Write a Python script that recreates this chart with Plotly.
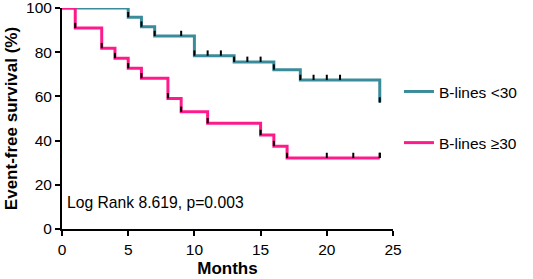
import numpy as np
import plotly.graph_objects as go

# Kaplan-Meier steps
low_time = [0, 5, 6, 7, 10, 13, 16, 18, 24]
low_surv = [100, 95.8, 91.5, 87.3, 78.4, 75.6, 72.1, 67.4, 57.2]
low_censor = [1, 2, 4, 9, 11, 12, 14, 15, 19, 20, 21]

high_time = [0, 1, 3, 4, 5, 6, 8, 9, 11, 15, 16, 17, 24]
high_surv = [100, 90.9, 81.8, 77.3, 72.7, 68.2, 59.1, 53.0, 47.8, 42.5, 37.5, 32.1, 32.1]
high_censor = [20, 22, 24]

TEAL = '#3b8c9b'
PINK = '#ff1a8c'
FONT = 'Arial, Liberation Sans, sans-serif'


def tick_points(times, surv, censor):
    # black marks: at the foot of every drop and on each censored time
    t = np.array(times)
    s = np.array(surv)
    ev_x = list(t[1:])
    ev_y = list(s[1:])
    idx = np.searchsorted(t, censor, side='right') - 1
    return ev_x + list(censor), ev_y + list(s[idx])


fig = go.Figure()

for name, t, s, c, col in [
    ('B-lines <30', low_time, low_surv, low_censor, TEAL),
    ('B-lines \u226530', high_time, high_surv, high_censor, PINK),
]:
    fig.add_trace(go.Scatter(
        x=t, y=s, mode='lines', name=name, legendgroup=name,
        line=dict(color=col, width=3, shape='hv'),
        cliponaxis=False
    ))
    tx, ty = tick_points(t, s, c)
    fig.add_trace(go.Scatter(
        x=tx, y=ty, mode='markers', showlegend=False, legendgroup=name,
        marker=dict(size=1, color='rgba(0,0,0,0)'),
        error_y=dict(type='data', symmetric=False, array=[2.4] * len(tx),
                     arrayminus=[0] * len(tx), width=0, thickness=2, color='black'),
        cliponaxis=False, hoverinfo='skip'
    ))

fig.add_annotation(
    x=0.01, y=0.12, xref='paper', yref='paper', xanchor='left', yanchor='middle',
    text='Log Rank 8.619, p=0.003', showarrow=False,
    font=dict(family=FONT, size=15.7, color='black')
)

fig.update_layout(
    width=533, height=279,
    margin=dict(l=62, r=140, t=8, b=50),
    plot_bgcolor='white', paper_bgcolor='white',
    font=dict(family=FONT, color='black'),
    showlegend=True,
    legend=dict(x=1.018, y=0.505, xanchor='left', yanchor='middle',
                font=dict(size=15.5), itemwidth=30, tracegroupgap=28,
                bgcolor='rgba(0,0,0,0)')
)
fig.update_xaxes(
    range=[0, 25], tickvals=[0, 5, 10, 15, 20, 25], automargin=False,
    showline=True, linecolor='black', linewidth=2, showgrid=False, zeroline=False,
    ticks='outside', ticklen=5, tickwidth=2, tickcolor='black',
    tickfont=dict(size=15.5), tickprefix='<b>', ticksuffix='</b>',
    ticklabeloverflow='allow',
    title=dict(text='<b>Months</b>', font=dict(size=17), standoff=6)
)
fig.update_yaxes(
    range=[0, 100], tickvals=[0, 20, 40, 60, 80, 100], automargin=False,
    showline=True, linecolor='black', linewidth=2, showgrid=False, zeroline=False,
    ticks='outside', ticklen=5, tickwidth=2, tickcolor='black',
    tickfont=dict(size=15.5), tickprefix='<b>', ticksuffix='</b>',
    ticklabeloverflow='allow',
    title=dict(text='<b>Event-free survival (%)</b>', font=dict(size=17), standoff=4)
)

fig.write_html('out.html', config={'displayModeBar': False},
               post_script="document.body.style.margin='0';")
